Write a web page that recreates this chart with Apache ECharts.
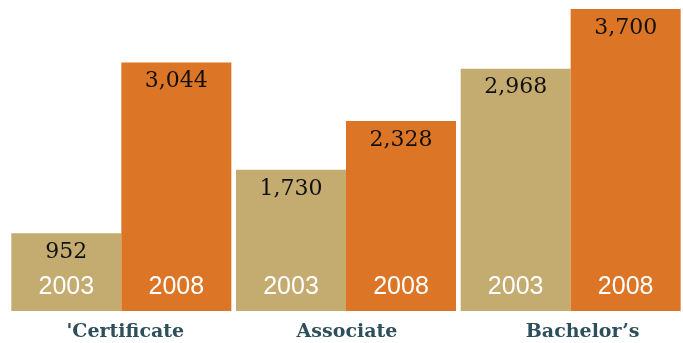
<!DOCTYPE html>
<html><head><meta charset="utf-8">
<script src="https://cdn.jsdelivr.net/npm/echarts@6/dist/echarts.min.js"></script>
<style>html,body{margin:0;padding:0;background:#fff}#c{width:683px;height:343px}</style>
</head><body><div id="c"></div>
<script>
const categories = ["'Certificate", "Associate", "Bachelor\u2019s"];
const years = ["2003", "2008"];
const values2003 = [952, 1730, 2968];
const values2008 = [3044, 2328, 3700];

const colors = ['#C4AB70', '#DC7626'];
const labelPad = [8, 2, 24];
const fmt = v => v.toLocaleString('en-US');

const chart = echarts.init(document.getElementById('c'));
const valueSeries = [values2003, values2008].map((d, i) => ({
  type: 'bar', name: years[i], data: d, xAxisIndex: 0, barWidth: 110, barGap: '0%',
  itemStyle: { color: colors[i] },
  label: { show: true, position: 'insideTop', distance: 8, color: '#111',
    fontFamily: 'DejaVu Serif', fontSize: 22, formatter: p => fmt(p.value) },
  animation: false
}));
const yearSeries = [values2003, values2008].map((d, i) => ({
  type: 'bar', name: years[i] + 'y', data: d, xAxisIndex: 1, barWidth: 110, barGap: '0%',
  itemStyle: { color: 'rgba(0,0,0,0)' },
  label: { show: true, position: 'insideBottom', distance: 11, color: '#fff',
    fontFamily: 'Liberation Sans', fontSize: 25, formatter: () => years[i] },
  animation: false, silent: true
}));
chart.setOption({
  animation: false,
  grid: { left: 9, width: 675, top: 9, bottom: 32 },
  xAxis: [
    { type: 'category',
      data: categories.map((c, i) => ({ value: c, textStyle: { padding: [0, 0, 0, labelPad[i]] } })),
      axisLine: { show: false }, axisTick: { show: false },
      axisLabel: { color: '#2C4F5B', fontFamily: 'DejaVu Serif', fontWeight: 'bold', fontSize: 19, margin: 12 } },
    { type: 'category', data: categories, show: false }
  ],
  yAxis: { type: 'value', min: 0, max: 3700, show: false, splitLine: { show: false } },
  series: [...valueSeries, ...yearSeries]
});
</script></body></html>
